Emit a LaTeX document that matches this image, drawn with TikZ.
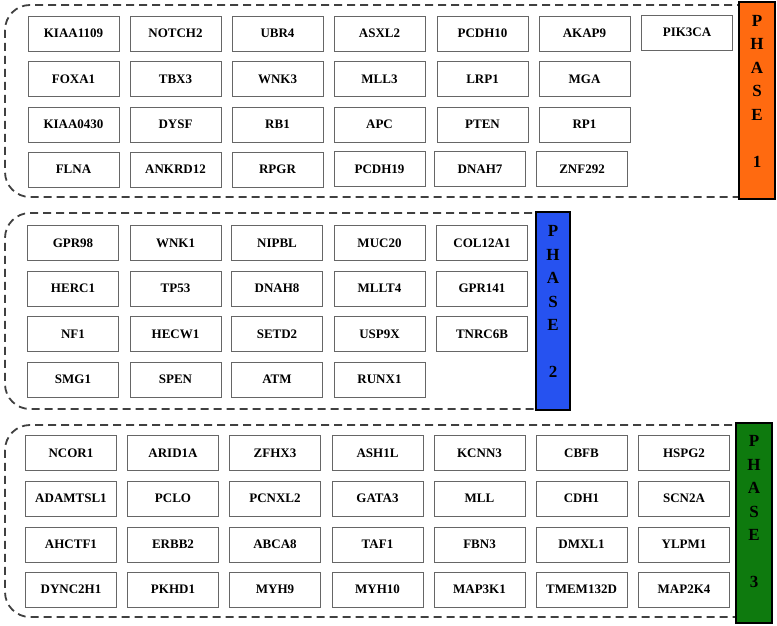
\documentclass[tikz,border=0pt]{standalone}
\usepackage{fontspec}
\setmainfont{Liberation Serif}
\definecolor{phaseorange}{RGB}{255,106,16}
\definecolor{phaseblue}{RGB}{38,82,240}
\definecolor{phasegreen}{RGB}{14,122,14}
\tikzset{
  gene/.style={draw=black!60, line width=0.8pt, minimum width=91pt, minimum height=35pt,
    inner sep=0pt, font=\bfseries\fontsize{13}{15}\selectfont},
  phasebar/.style={draw=black, line width=1.2pt, inner sep=0pt},
  phaselabel/.style={align=center, inner sep=0pt, font=\bfseries\fontsize{17}{23.5}\selectfont},
  groupframe/.style={draw=black!75, line width=1.8pt, dash pattern=on 8pt off 5pt, rounded corners=25pt}
}
\begin{document}
\begin{tikzpicture}[x=1pt,y=-1pt]
\useasboundingbox (0,0) rectangle (777,626);
% phase 1
\draw[groupframe] (745,5) -- (5,5) -- (5,197) -- (745,197);
\node[gene] (kiaa1109) at (73.5,33.5) {KIAA1109};
\node[gene] (notch2) at (175.5,33.5) {NOTCH2};
\node[gene] (ubr4) at (277.5,33.5) {UBR4};
\node[gene] (asxl2) at (379.5,33.5) {ASXL2};
\node[gene] (pcdh10) at (482.5,33.5) {PCDH10};
\node[gene] (akap9) at (584.5,33.5) {AKAP9};
\node[gene] (pik3ca) at (687,32.5) {PIK3CA};
\node[gene] (foxa1) at (73.5,79) {FOXA1};
\node[gene] (tbx3) at (175.5,79) {TBX3};
\node[gene] (wnk3) at (277.5,79) {WNK3};
\node[gene] (mll3) at (379.5,79) {MLL3};
\node[gene] (lrp1) at (482.5,79) {LRP1};
\node[gene] (mga) at (584.5,79) {MGA};
\node[gene] (kiaa0430) at (73.5,124.5) {KIAA0430};
\node[gene] (dysf) at (175.5,124.5) {DYSF};
\node[gene] (rb1) at (277.5,124.5) {RB1};
\node[gene] (apc) at (379.5,124.5) {APC};
\node[gene] (pten) at (482.5,124.5) {PTEN};
\node[gene] (rp1) at (584.5,124.5) {RP1};
\node[gene] (flna) at (73.5,169.5) {FLNA};
\node[gene] (ankrd12) at (175.5,169.5) {ANKRD12};
\node[gene] (rpgr) at (277.5,169.5) {RPGR};
\node[gene] (pcdh19) at (379.5,169) {PCDH19};
\node[gene] (dnah7) at (480,169) {DNAH7};
\node[gene] (znf292) at (582,169) {ZNF292};
\node[phasebar, fill=phaseorange, minimum width=36pt, minimum height=197pt] (ph1) at (757,100.5) {};
\node[phaselabel] (ph1t) at (757,91) {P\\H\\A\\S\\E\\ \\1};
% phase 2
\draw[groupframe] (545,213) -- (5,213) -- (5,409) -- (545,409);
\node[gene] (gpr98) at (73,243) {GPR98};
\node[gene] (wnk1) at (175.5,243) {WNK1};
\node[gene] (nipbl) at (277,243) {NIPBL};
\node[gene] (muc20) at (379.5,243) {MUC20};
\node[gene] (col12a1) at (482,243) {COL12A1};
\node[gene] (herc1) at (73,288.5) {HERC1};
\node[gene] (tp53) at (175.5,288.5) {TP53};
\node[gene] (dnah8) at (277,288.5) {DNAH8};
\node[gene] (mllt4) at (379.5,288.5) {MLLT4};
\node[gene] (gpr141) at (482,288.5) {GPR141};
\node[gene] (nf1) at (73,334) {NF1};
\node[gene] (hecw1) at (175.5,334) {HECW1};
\node[gene] (setd2) at (277,334) {SETD2};
\node[gene] (usp9x) at (379.5,334) {USP9X};
\node[gene] (tnrc6b) at (482,334) {TNRC6B};
\node[gene] (smg1) at (73,379.5) {SMG1};
\node[gene] (spen) at (175.5,379.5) {SPEN};
\node[gene] (atm) at (277,379.5) {ATM};
\node[gene] (runx1) at (379.5,379.5) {RUNX1};
\node[phasebar, fill=phaseblue, minimum width=34pt, minimum height=198pt] (ph2) at (553,311) {};
\node[phaselabel] (ph2t) at (553,301.5) {P\\H\\A\\S\\E\\ \\2};
% phase 3
\draw[groupframe] (745,425) -- (5,425) -- (5,617) -- (745,617);
\node[gene] (ncor1) at (71,453) {NCOR1};
\node[gene] (arid1a) at (173,453) {ARID1A};
\node[gene] (zfhx3) at (275,453) {ZFHX3};
\node[gene] (ash1l) at (377.5,453) {ASH1L};
\node[gene] (kcnn3) at (479.5,453) {KCNN3};
\node[gene] (cbfb) at (581.5,453) {CBFB};
\node[gene] (hspg2) at (684,453) {HSPG2};
\node[gene] (adamtsl1) at (71,498.5) {ADAMTSL1};
\node[gene] (pclo) at (173,498.5) {PCLO};
\node[gene] (pcnxl2) at (275,498.5) {PCNXL2};
\node[gene] (gata3) at (377.5,498.5) {GATA3};
\node[gene] (mll) at (479.5,498.5) {MLL};
\node[gene] (cdh1) at (581.5,498.5) {CDH1};
\node[gene] (scn2a) at (684,498.5) {SCN2A};
\node[gene] (ahctf1) at (71,544.5) {AHCTF1};
\node[gene] (erbb2) at (173,544.5) {ERBB2};
\node[gene] (abca8) at (275,544.5) {ABCA8};
\node[gene] (taf1) at (377.5,544.5) {TAF1};
\node[gene] (fbn3) at (479.5,544.5) {FBN3};
\node[gene] (dmxl1) at (581.5,544.5) {DMXL1};
\node[gene] (ylpm1) at (684,544.5) {YLPM1};
\node[gene] (dync2h1) at (71,589.5) {DYNC2H1};
\node[gene] (pkhd1) at (173,589.5) {PKHD1};
\node[gene] (myh9) at (275,589.5) {MYH9};
\node[gene] (myh10) at (377.5,589.5) {MYH10};
\node[gene] (map3k1) at (479.5,589.5) {MAP3K1};
\node[gene] (tmem132d) at (581.5,589.5) {TMEM132D};
\node[gene] (map2k4) at (684,589.5) {MAP2K4};
\node[phasebar, fill=phasegreen, minimum width=36pt, minimum height=200pt] (ph3) at (754,523) {};
\node[phaselabel] (ph3t) at (754,512) {P\\H\\A\\S\\E\\ \\3};
\end{tikzpicture}
\end{document}
